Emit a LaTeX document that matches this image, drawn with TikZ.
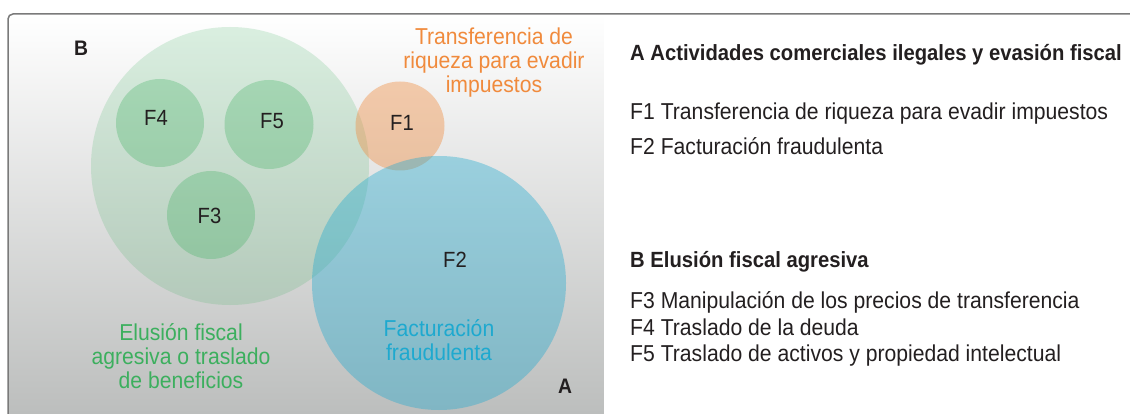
\documentclass[tikz,border=0pt]{standalone}
\usepackage{fontspec}
\setmainfont{Liberation Sans}[FakeStretch=0.92]
\usepackage{tikz}
\definecolor{inkdark}{HTML}{231F20}
\definecolor{frameg}{HTML}{7A7A7A}
\definecolor{bggray}{RGB}{188,190,189}
\definecolor{greenB}{HTML}{3CAF5E}
\definecolor{orangeF}{HTML}{F08A3C}
\definecolor{blueF}{HTML}{1EA9CF}
\tikzset{zone/.style = {circle, inner sep = 0, minimum size = #1}}
\tikzset{tag/.style = {anchor = base, inner sep = 0, text = inkdark, font = \fontsize{22}{26}\selectfont}}
\tikzset{legend/.style = {anchor = base west, inner sep = 0, text = inkdark, font = \fontsize{23}{26}\selectfont}}
\tikzset{head/.style = {legend, font = \fontsize{22}{26}\selectfont\bfseries}}
\tikzset{caption/.style = {anchor = base, inner sep = 0, align = center, font = \fontsize{23}{24}\selectfont}}

\begin{document}
\begin{tikzpicture}[x = 1pt, y = -1pt]
    \useasboundingbox (0, 0) rectangle (1130, 414);

    % shaded panel
    \begin{scope}
      \clip (8, 414) [rounded corners = 5] -- (8, 14) [sharp corners] -- (604, 14) -- (604, 414) -- cycle;
      \shade [shading angle = 62, top color = white, bottom color = bggray] (8, 14) rectangle (604, 414);
    \end{scope}
    \draw [frameg, line width = 1.5, rounded corners = 5] (8, 414) |- (1130, 14);

    % B and its three parts
    \node [zone = 278, fill = greenB, fill opacity = 0.18] (zoneB) at (230, 166) {};
    \node [zone = 88, fill = greenB, fill opacity = 0.3] (zoneF4) at (160, 123) {};
    \node [zone = 89, fill = greenB, fill opacity = 0.3] (zoneF5) at (269, 124.5) {};
    \node [zone = 88, fill = greenB, fill opacity = 0.3] (zoneF3) at (211, 215) {};

    % A and its two parts
    \node [zone = 89, fill = orangeF, fill opacity = 0.4] (zoneF1) at (400, 126) {};
    \node [zone = 254, fill = blueF, fill opacity = 0.38] (zoneF2) at (439, 283) {};

    \node [tag] (tagF4) at (156, 126) {F4};
    \node [tag] (tagF5) at (272, 129) {F5};
    \node [tag] (tagF3) at (209.5, 224) {F3};
    \node [tag] (tagF1) at (402, 131) {F1};
    \node [tag] (tagF2) at (455, 267) {F2};

    \node [tag, font = \fontsize{21}{24}\selectfont\bfseries] (tagB) at (81, 56) {B};
    \node [tag, font = \fontsize{21}{24}\selectfont\bfseries] (tagA) at (565, 393) {A};

    % captions: base is the last line
    \node [caption, text = orangeF] (capF1) at (494, 93) {Transferencia de\\riqueza para evadir\\impuestos};
    \node [caption, text = greenB] (capB) at (181, 388) {Elusión fiscal\\agresiva o traslado\\de beneficios};
    \node [caption, text = blueF] (capF2) at (439, 360) {Facturación\\fraudulenta};

    % legend
    \node [head] (headA) at (630, 61) {A Actividades comerciales ilegales y evasión fiscal};
    \node [legend] (itemF1) at (630, 119.5) {F1 Transferencia de riqueza para evadir impuestos};
    \node [legend] (itemF2) at (630, 154.5) {F2 Facturación fraudulenta};
    \node [head] (headB) at (630, 267) {B Elusión fiscal agresiva};
    \node [legend] (itemF3) at (630, 308.5) {F3 Manipulación de los precios de transferencia};
    \node [legend] (itemF4) at (630, 335) {F4 Traslado de la deuda};
    \node [legend] (itemF5) at (630, 361.7) {F5 Traslado de activos y propiedad intelectual};
  \end{tikzpicture}
\end{document}
